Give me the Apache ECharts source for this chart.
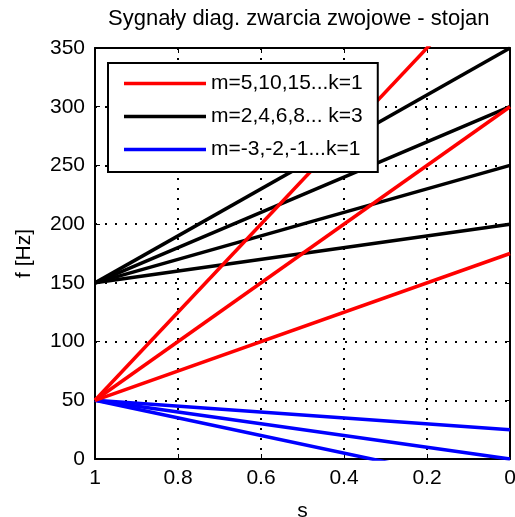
<!DOCTYPE html>
<html>
<head>
<meta charset="utf-8">
<script src="https://cdn.jsdelivr.net/npm/echarts@6.0.0/dist/echarts.min.js"></script>
<style>
  html, body { margin: 0; padding: 0; background: #ffffff; }
  #chart { width: 515px; height: 517px; }
</style>
</head>
<body>
<div id="chart"></div>
<script>
// Slip runs from 1 (standstill) down to 0 (synchronous speed)
const slipFrom = 1;
const slipTo = 0;

// Fault frequencies [Hz] at s = 1 and at s = 0 for each characteristic line
const redAtStart = [50, 50, 50];
const redAtEnd = [175, 300, 425];
const blackAtStart = [150, 150, 150, 150];
const blackAtEnd = [200, 250, 300, 350];
const blueAtStart = [50, 50, 50];
const blueAtEnd = [25, 0, -25];

// Axis ticks
const xTicks = [0, 0.2, 0.4, 0.6, 0.8, 1];
const yTicks = [0, 50, 100, 150, 200, 250, 300, 350];

const groupNames = ['m=5,10,15...k=1', 'm=2,4,6,8... k=3', 'm=-3,-2,-1...k=1'];
const groupColors = ['#ff0000', '#000000', '#0000ff'];

const FONT = '"Liberation Sans", Arial, Helvetica, sans-serif';

function groupSeries(name, color, starts, ends) {
  return starts.map((f0, i) => ({
    name: name,
    type: 'line',
    symbol: 'none',
    silent: true,
    clip: true,
    color: color,
    lineStyle: { color: color, width: 3.5 },
    data: [[slipFrom, f0], [slipTo, ends[i]]]
  }));
}

const xMin = xTicks[0], xMax = xTicks[xTicks.length - 1], xStep = xTicks[1] - xTicks[0];
const yMin = yTicks[0], yMax = yTicks[yTicks.length - 1], yStep = yTicks[1] - yTicks[0];

const series = [].concat(
  groupSeries(groupNames[1], groupColors[1], blackAtStart, blackAtEnd),
  groupSeries(groupNames[2], groupColors[2], blueAtStart, blueAtEnd),
  groupSeries(groupNames[0], groupColors[0], redAtStart, redAtEnd)
);

const axisText = { color: '#000', fontSize: 21, fontFamily: FONT };
const boxLine = { show: true, onZero: false, lineStyle: { color: '#000', width: 2 } };
const innerTick = { show: true, inside: true, length: 5, lineStyle: { color: '#000', width: 1 } };
const dotGrid = { show: true, lineStyle: { color: '#000', width: 2, type: [2, 8] } };

const chart = echarts.init(document.getElementById('chart'), null, { renderer: 'canvas' });
chart.setOption({
  animation: false,
  backgroundColor: '#ffffff',
  title: {
    text: 'Sygnały diag. zwarcia zwojowe - stojan',
    left: 108,
    top: 8,
    padding: 0,
    textStyle: { color: '#000', fontSize: 22, fontWeight: 'normal', fontFamily: FONT }
  },
  grid: { left: 95, right: 5, top: 48, bottom: 58, containLabel: false, outerBoundsMode: 'none' },
  legend: {
    data: groupNames,
    orient: 'vertical',
    left: 108,
    top: 63,
    icon: 'rect',
    itemWidth: 82,
    itemHeight: 3.5,
    itemGap: 12,
    padding: [10, 15, 12, 16],
    backgroundColor: '#ffffff',
    borderColor: '#000',
    borderWidth: 2,
    borderRadius: 0,
    selectedMode: false,
    textStyle: { color: '#000', fontSize: 21, fontFamily: FONT, lineHeight: 21 }
  },
  xAxis: [
    {
      type: 'value', position: 'bottom', inverse: true,
      min: xMin, max: xMax, interval: xStep,
      name: 's', nameLocation: 'middle', nameGap: 42,
      nameTextStyle: axisText,
      axisLine: boxLine, axisTick: innerTick,
      axisLabel: Object.assign({ margin: 9 }, axisText),
      splitLine: dotGrid
    },
    {
      type: 'value', position: 'top', inverse: true,
      min: xMin, max: xMax, interval: xStep,
      axisLine: boxLine, axisTick: innerTick,
      axisLabel: { show: false }, splitLine: { show: false }
    }
  ],
  yAxis: [
    {
      type: 'value', position: 'left',
      min: yMin, max: yMax, interval: yStep,
      name: 'f [Hz]', nameLocation: 'middle', nameGap: 60,
      nameTextStyle: axisText,
      axisLine: boxLine, axisTick: innerTick,
      axisLabel: Object.assign({ margin: 10 }, axisText),
      splitLine: dotGrid
    },
    {
      type: 'value', position: 'right',
      min: yMin, max: yMax, interval: yStep,
      axisLine: boxLine, axisTick: innerTick,
      axisLabel: { show: false }, splitLine: { show: false }
    }
  ],
  series: series
});
</script>
</body>
</html>
